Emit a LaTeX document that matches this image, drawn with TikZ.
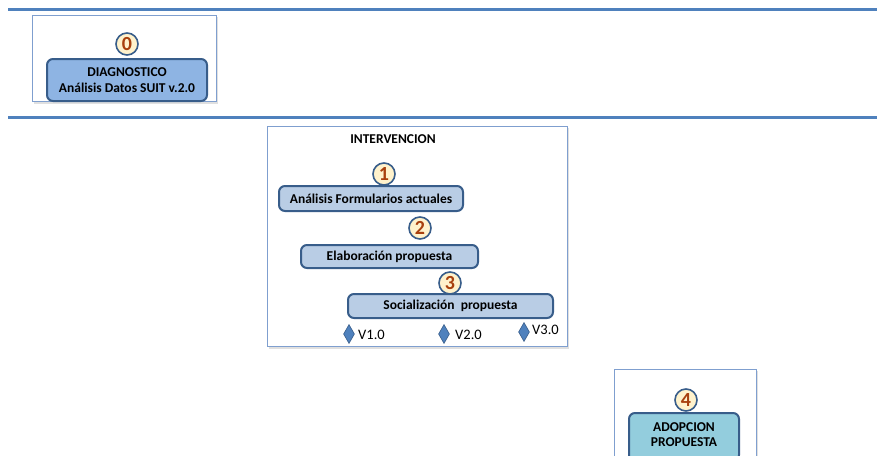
\documentclass[tikz,border=0pt]{standalone}
\usepackage{fontspec}
\setmainfont{Carlito}
\usetikzlibrary{shapes.geometric}
\definecolor{rule}{HTML}{4F81BD}
\definecolor{frameb}{HTML}{7F9FCF}
\definecolor{dkblue}{HTML}{385D8A}
\definecolor{fillA}{HTML}{8EB4E3}
\definecolor{fillB}{HTML}{B9CDE5}
\definecolor{fillC}{HTML}{93CDDD}
\definecolor{numfill}{HTML}{FFF2CC}
\definecolor{numtxt}{HTML}{A8400E}
\definecolor{diam}{HTML}{4F81BD}
\tikzset{
  x=1pt, y=-1pt,
  hrule/.style={draw=rule, line width=3pt},
  frame/.style={draw=frameb, line width=0.8pt, fill=white},
  shadowr/.style={fill=black!12, draw=none},
  stepbox/.style={draw=dkblue, line width=2pt, rounded corners=6pt, font=\bfseries\fontsize{13.5}{16}\selectfont, align=center, inner sep=0pt},
  numc/.style={circle, draw=dkblue, line width=1.6pt, fill=numfill, minimum size=22pt, inner sep=0pt, text=numtxt, font=\bfseries\fontsize{20}{20}\selectfont},
  diamk/.style={diamond, fill=diam, draw=dkblue, line width=0.6pt, minimum width=11pt, minimum height=19pt, inner sep=0pt},
  vlab/.style={font=\fontsize{14.5}{16}\selectfont, anchor=west, inner sep=0pt},
}
\begin{document}
\begin{tikzpicture}
\useasboundingbox (0,0) rectangle (877,455);
% rules
\coordinate (r1a) at (8,9); \coordinate (r1b) at (877,9);
\coordinate (r2a) at (8,117); \coordinate (r2b) at (877,117);
\draw[hrule] (r1a) -- (r1b);
\draw[hrule] (r2a) -- (r2b);
% frame 0
\fill[shadowr] (34,17) rectangle (218,104);
\draw[frame] (32,15) rectangle (216,101);
\node[stepbox, fill=fillA, minimum width=160pt, minimum height=42pt] (d0) at (127,80) {DIAGNOSTICO\\[0pt]Análisis Datos SUIT v.2.0};
\node[numc] (n0) at (127,44) {0};
% frame intervencion
\fill[shadowr] (269,128) rectangle (569,349);
\draw[frame] (267,126) rectangle (567,346);
\node[font=\bfseries\fontsize{13.5}{16}\selectfont] (tit) at (393,139) {INTERVENCION};
\node[stepbox, fill=fillB, minimum width=184pt, minimum height=25pt] (b1) at (371,198.5) {Análisis Formularios actuales};
\node[numc] (n1) at (384,174) {1};
\node[stepbox, fill=fillB, minimum width=177pt, minimum height=23pt] (b2) at (389.5,256.5) {Elaboración propuesta};
\node[numc] (n2) at (420,228) {2};
\node[stepbox, fill=fillB, minimum width=205pt, minimum height=24pt] (b3) at (450.5,306) {Socialización\ \ propuesta};
\node[numc] (n3) at (450,283) {3};
\node[diamk] (v1) at (349,334) {};
\node[vlab] (t1) at (358,335) {V1.0};
\node[diamk] (v2) at (444,334) {};
\node[vlab] (t2) at (455,335) {V2.0};
\node[diamk] (v3) at (524,332) {};
\node[vlab] (t3) at (532,330) {V3.0};
% frame 4
\fill[shadowr] (616,371) rectangle (758,457);
\draw[frame] (614,369) rectangle (756,458);
\node[stepbox, fill=fillC, minimum width=110pt, minimum height=48pt, anchor=north] (b4) at (684,412) {};
\node[font=\bfseries\fontsize{13.5}{15}\selectfont, align=center] (t4) at (684,434.5) {ADOPCION\\[0pt]PROPUESTA};
\node[numc] (n4) at (686,400) {4};
\end{tikzpicture}
\end{document}
